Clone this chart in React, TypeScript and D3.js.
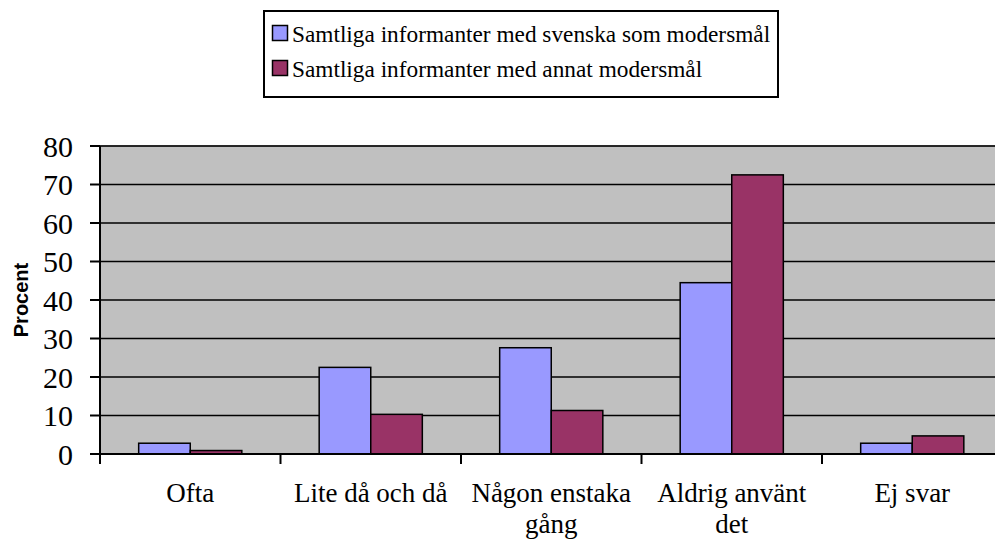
import React from "react";
import * as d3 from "d3";

const categories = ["Ofta", "Lite då och då", "Någon enstaka gång", "Aldrig använt det", "Ej svar"];
const categoryLines = [["Ofta"], ["Lite då och då"], ["Någon enstaka", "gång"], ["Aldrig använt", "det"], ["Ej svar"]];
const seriesNames = ["Samtliga informanter med svenska som modersmål", "Samtliga informanter med annat modersmål"];
const svenskaValues = [2.8, 22.5, 27.6, 44.5, 2.8];
const annatValues = [0.9, 10.3, 11.3, 72.5, 4.7];
const yTicks = [0, 10, 20, 30, 40, 50, 60, 70, 80];
const colors = ["#9999FF", "#993366"];

const SERIF = "'Liberation Serif'";

export default function App() {
  const W = 995, H = 541;
  const left = 100, right = 1002.5, top = 146, bottom = 454;
  const x0 = d3.scaleBand<string>().domain(categories).range([left, right]).padding(0);
  const x1 = d3.scaleBand<string>().domain(["a", "b"]).range([0, x0.bandwidth()]).paddingInner(0).paddingOuter(0.75);
  const y = d3.scaleLinear().domain([0, 80]).range([bottom, top]);
  const series = [svenskaValues, annatValues];
  const keys = ["a", "b"];

  return (
    <svg width={W} height={H} style={{ position: "absolute", left: 0, top: 0, background: "#fff" }}>
      <rect x={left} y={top} width={right - left} height={bottom - top} fill="#C0C0C0" stroke="#808080" strokeWidth={1.5} />
      {yTicks.filter(t => t > 0).map(t => (
        <line key={"g" + t} x1={left} x2={right} y1={y(t)} y2={y(t)} stroke="#000" strokeWidth={1.5} />
      ))}
      {categories.map((c, i) => (
        <g key={c}>
          {series.map((vals, s) => (
            <rect key={s} x={(x0(c) as number) + (x1(keys[s]) as number)} y={y(vals[i])}
              width={x1.bandwidth()} height={y(0) - y(vals[i])} fill={colors[s]} stroke="#000" strokeWidth={1.5} />
          ))}
        </g>
      ))}
      <line x1={left} x2={left} y1={top} y2={bottom} stroke="#000" strokeWidth={2} />
      <line x1={left} x2={right} y1={bottom} y2={bottom} stroke="#000" strokeWidth={2} />
      {yTicks.map(t => (
        <g key={"t" + t}>
          <line x1={left - 10} x2={left} y1={y(t)} y2={y(t)} stroke="#000" strokeWidth={2} />
          <text x={73} y={y(t)} dy="0.35em" textAnchor="end" style={{ fontFamily: SERIF, fontSize: 30 }} fill="#000">{t}</text>
        </g>
      ))}
      {categories.map((c, i) => (
        <line key={"xt" + i} x1={x0(c) as number} x2={x0(c) as number} y1={bottom} y2={bottom + 10} stroke="#000" strokeWidth={2} />
      ))}
      {categories.map((c, i) => (
        <text key={"xl" + i} x={(x0(c) as number) + x0.bandwidth() / 2} y={502} textAnchor="middle"
          style={{ fontFamily: SERIF, fontSize: 27 }} fill="#000">
          {categoryLines[i].map((ln, k) => (
            <tspan key={k} x={(x0(c) as number) + x0.bandwidth() / 2} dy={k === 0 ? 0 : 31}>{ln}</tspan>
          ))}
        </text>
      ))}
      <text transform="translate(28,300) rotate(-90)" textAnchor="middle"
        style={{ fontFamily: "'Liberation Sans'", fontWeight: "bold", fontSize: 20 }} fill="#000">Procent</text>
      <rect x={264} y={11} width={514} height={86} fill="#fff" stroke="#000" strokeWidth={2} />
      {seriesNames.map((n, s) => (
        <g key={n}>
          <rect x={272.5} y={25.5 + s * 35} width={15} height={15} fill={colors[s]} stroke="#000" strokeWidth={1.5} />
          <text x={292} y={42 + s * 35} style={{ fontFamily: SERIF, fontSize: 23.3 }} fill="#000">{n}</text>
        </g>
      ))}
    </svg>
  );
}
